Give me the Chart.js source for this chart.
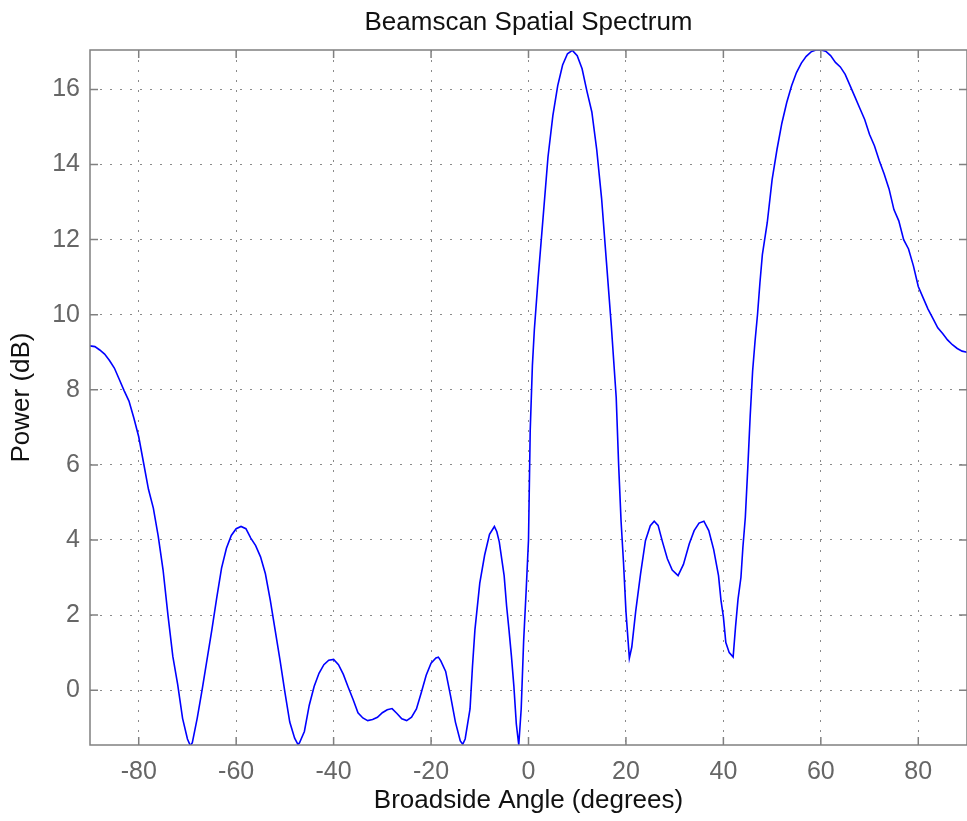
<!DOCTYPE html>
<html>
<head>
<meta charset="utf-8">
<script src="https://cdn.jsdelivr.net/npm/chart.js@4/dist/chart.umd.min.js"></script>
<style>
  html, body { margin: 0; padding: 0; background: #fff; }
  #wrap { width: 967px; height: 821px; }
</style>
</head>
<body>
<div id="wrap"><canvas id="myChart" width="967" height="821"></canvas></div>
<script>
// angles (deg) and power (dB)
const angles = [
  -90, -89, -88, -87, -86, -85, -84, -83, -82, -81,
  -80, -79, -78, -77, -76, -75, -74, -73, -72, -71,
  -70, -69.4, -69, -68, -67, -66, -65, -64, -63, -62,
  -61, -60, -59, -58, -57, -56, -55, -54, -53, -52,
  -51, -50, -49, -48, -47.3, -47, -46, -45, -44, -43,
  -42, -41, -40, -39, -38, -37, -36, -35, -34, -33,
  -32, -31, -30, -29, -28, -27, -26, -25, -24, -23,
  -22, -21, -20, -19, -18.5, -18, -17, -16, -15, -14,
  -13.5, -13, -12, -11.5, -11, -10, -9, -8, -7, -6.5,
  -6, -5, -4.5, -4, -3.5, -3, -2.5, -2, -1.5, -1,
  -0.5, 0, 0.35, 0.8, 1.2, 2, 3, 4, 5, 6,
  7, 8, 9, 10, 11, 12, 13, 14, 15, 16,
  17, 18, 18.5, 19, 19.5, 20, 20.7, 21.2, 22, 23,
  24, 25, 25.8, 26.6, 27.5, 28.5, 29.5, 30.7, 31.8, 33,
  34, 35, 36, 37, 38, 39, 39.5, 40, 40.5, 41.2,
  42, 42.5, 43, 43.6, 44, 44.5, 45, 45.5, 46, 46.5,
  47, 47.5, 48, 49, 50, 51, 52, 53, 54, 55,
  56, 57, 58, 59, 60, 61, 62, 63, 64, 65,
  66, 67, 68, 69, 70, 71, 72, 73, 74, 75,
  76, 77, 78, 79, 80, 81, 82, 83, 84, 85,
  86, 87, 88, 89, 90
];
const power = [
  9.17, 9.15, 9.06, 8.95, 8.78, 8.58, 8.28, 7.98, 7.7, 7.25,
  6.75, 6.05, 5.35, 4.85, 4.1, 3.2, 2.0, 0.9, 0.15, -0.75,
  -1.3, -1.48, -1.4, -0.75, 0.0, 0.8, 1.6, 2.45, 3.25, 3.78,
  4.12, 4.3, 4.36, 4.3, 4.05, 3.85, 3.55, 3.1, 2.4, 1.6,
  0.8, -0.05, -0.85, -1.28, -1.45, -1.4, -1.1, -0.4, 0.1, 0.45,
  0.68, 0.8, 0.82, 0.68, 0.42, 0.08, -0.25, -0.6, -0.74, -0.81,
  -0.78, -0.72, -0.6, -0.52, -0.49, -0.62, -0.76, -0.81, -0.72, -0.5,
  -0.06, 0.4, 0.72, 0.86, 0.88, 0.78, 0.5, -0.15, -0.85, -1.35,
  -1.44, -1.3, -0.5, 0.63, 1.6, 2.85, 3.6, 4.15, 4.36, 4.22,
  3.95, 3.05, 2.25, 1.6, 0.9, 0.1, -0.9, -1.46, -0.5, 1.3,
  2.6, 4.0, 6.9, 8.65, 9.6, 11.0, 12.6, 14.2, 15.3, 16.1,
  16.65, 16.95, 17.04, 16.9, 16.55, 15.95, 15.4, 14.4, 13.1, 11.4,
  9.7, 7.8, 6.0, 4.5, 3.4, 2.1, 0.85, 1.15, 2.1, 3.1,
  3.98, 4.38, 4.5, 4.39, 3.95, 3.5, 3.2, 3.05, 3.35, 3.9,
  4.25, 4.45, 4.5, 4.25, 3.75, 3.05, 2.4, 1.95, 1.27, 1.0,
  0.88, 1.7, 2.42, 3.0, 3.8, 4.6, 5.9, 7.3, 8.5, 9.3,
  10.0, 10.85, 11.6, 12.45, 13.6, 14.4, 15.1, 15.65, 16.1, 16.45,
  16.7, 16.88, 17.0, 17.05, 17.05, 17.02, 16.9, 16.72, 16.6, 16.4,
  16.1, 15.8, 15.5, 15.2, 14.8, 14.5, 14.1, 13.75, 13.35, 12.8,
  12.5, 12.0, 11.75, 11.3, 10.75, 10.45, 10.15, 9.9, 9.65, 9.5,
  9.33, 9.2, 9.1, 9.03, 9.0
];
const xTicks = [-80, -60, -40, -20, 0, 20, 40, 60, 80];
const yTicks = [0, 2, 4, 6, 8, 10, 12, 14, 16];

const titleText = 'Beamscan Spatial Spectrum';
const axisGrey = '#808080';
const fontFamily = '"Liberation Sans", Arial, sans-serif';

// MATLAB style: box, inward ticks, title centred on the axes
const boxPlugin = {
  id: 'box',
  afterDraw(chart) {
    const { ctx, chartArea: a, scales } = chart;
    ctx.save();
    ctx.strokeStyle = axisGrey;
    ctx.lineWidth = 1.5;
    ctx.strokeRect(a.left, a.top, a.right - a.left, a.bottom - a.top);
    ctx.beginPath();
    xTicks.forEach(v => {
      const x = scales.x.getPixelForValue(v);
      ctx.moveTo(x, a.bottom); ctx.lineTo(x, a.bottom - 8);
      ctx.moveTo(x, a.top); ctx.lineTo(x, a.top + 8);
    });
    yTicks.forEach(v => {
      const y = scales.y.getPixelForValue(v);
      ctx.moveTo(a.left, y); ctx.lineTo(a.left + 8, y);
      ctx.moveTo(a.right, y); ctx.lineTo(a.right - 8, y);
    });
    ctx.stroke();
    ctx.fillStyle = '#111';
    ctx.font = '26px ' + fontFamily;
    ctx.textAlign = 'center';
    ctx.textBaseline = 'alphabetic';
    ctx.fillText(titleText, (a.left + a.right) / 2, 30);
    ctx.restore();
  }
};

const ctx = document.getElementById('myChart');
new Chart(ctx, {
  type: 'line',
  data: {
    datasets: [{
      data: angles.map((a, i) => ({ x: a, y: power[i] })),
      borderColor: '#0000ff',
      borderWidth: 1.6,
      pointRadius: 0,
      tension: 0,
      fill: false
    }]
  },
  options: {
    responsive: false,
    animation: false,
    layout: { padding: { top: 50, right: 0, left: 0, bottom: 0 } },
    plugins: { legend: { display: false }, tooltip: { enabled: false } },
    scales: {
      x: {
        type: 'linear',
        min: -90,
        max: 90,
        afterBuildTicks: s => { s.ticks = xTicks.map(v => ({ value: v })); },
        afterFit: s => { s.height = 76; },
        border: { display: false, dash: [2, 8] },
        grid: { color: '#8a8a8a', lineWidth: 1, drawTicks: false },
        ticks: { color: '#666', padding: 12, font: { family: fontFamily, size: 25 } },
        title: {
          display: true,
          text: 'Broadside Angle (degrees)',
          color: '#111',
          padding: { top: 0, bottom: 5 },
          font: { family: fontFamily, size: 26 }
        }
      },
      y: {
        min: -1.46,
        max: 17.05,
        afterBuildTicks: s => { s.ticks = yTicks.map(v => ({ value: v })); },
        afterFit: s => { s.width = 90; },
        border: { display: false, dash: [2, 8] },
        grid: { color: '#8a8a8a', lineWidth: 1, drawTicks: false },
        ticks: { color: '#666', padding: 10, font: { family: fontFamily, size: 25 } },
        title: {
          display: true,
          text: 'Power (dB)',
          color: '#111',
          padding: { top: 6, bottom: 0 },
          font: { family: fontFamily, size: 26 }
        }
      }
    }
  },
  plugins: [boxPlugin]
});
</script>
</body>
</html>
